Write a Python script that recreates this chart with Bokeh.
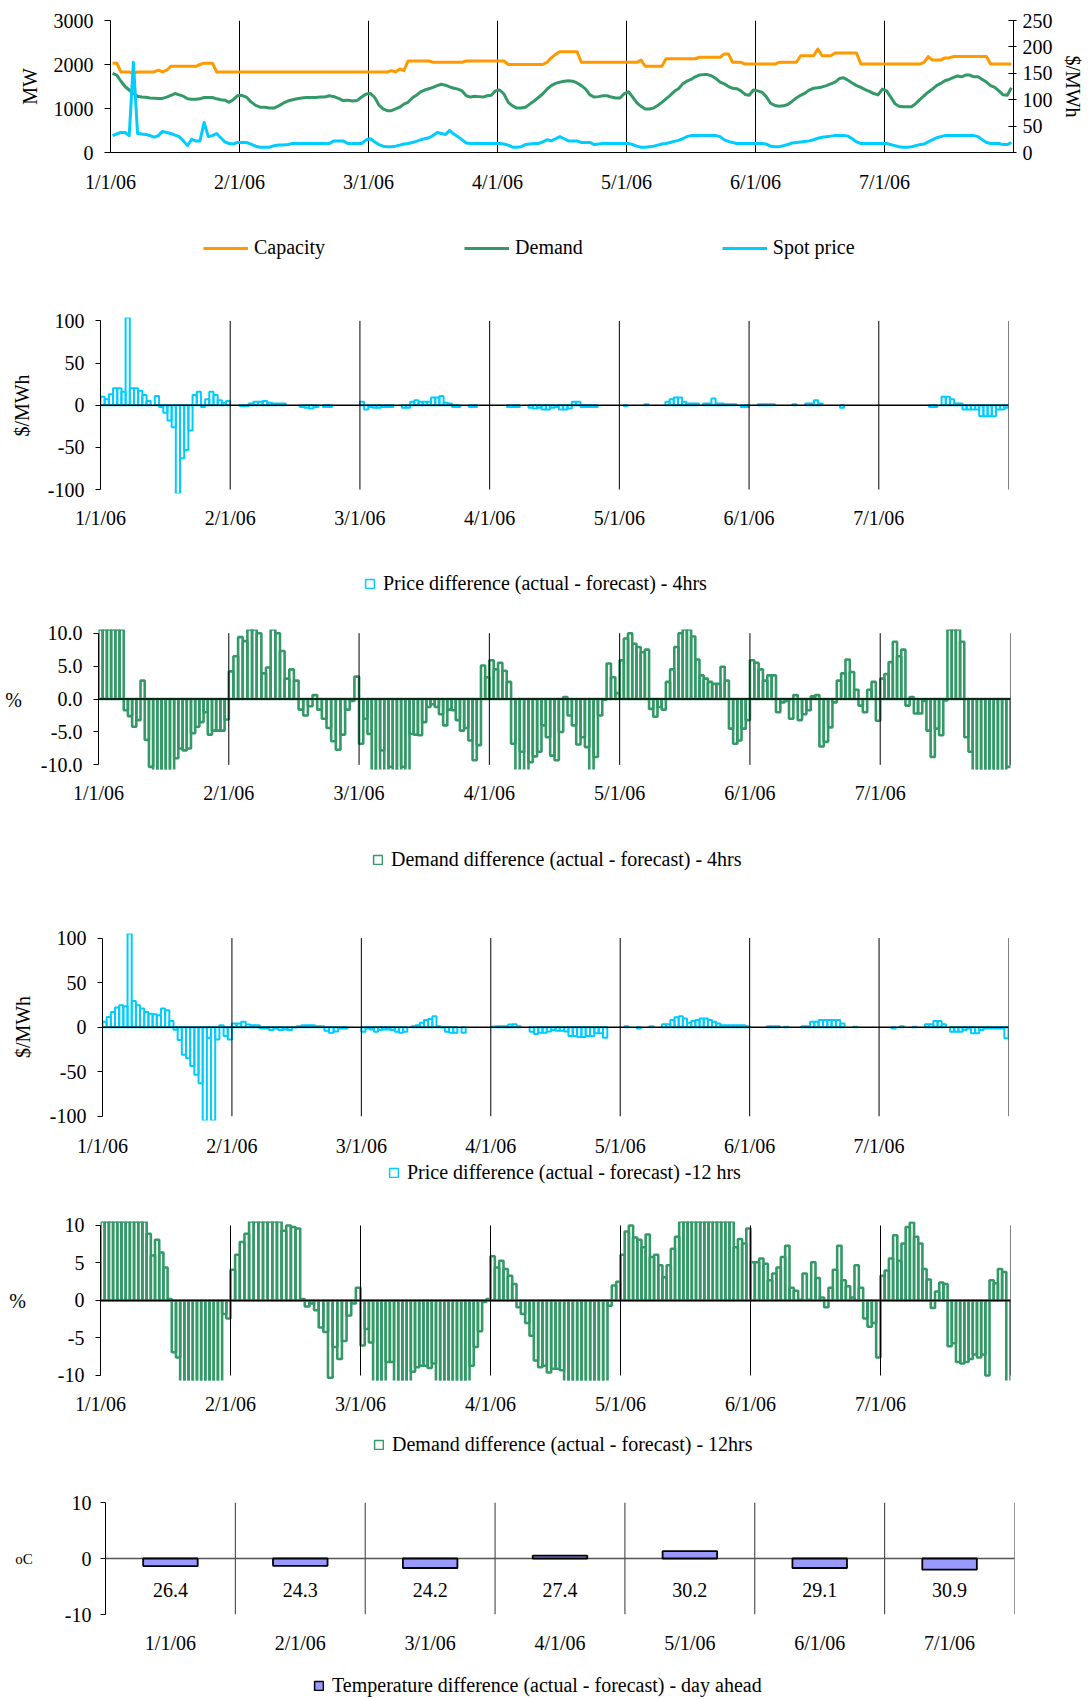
import numpy as np
import pandas as pd
from bokeh.plotting import figure
from bokeh.layouts import column
from bokeh.models import (ColumnDataSource, Range1d, LinearAxis, FixedTicker,
                          NumeralTickFormatter, Legend, LegendItem)
from bokeh.core.properties import value
from bokeh.embed import file_html
from bokeh.resources import INLINE

# ---------------------------------------------------------------- data
month_labels = ["1/1/06", "2/1/06", "3/1/06", "4/1/06", "5/1/06", "6/1/06", "7/1/06"]

capacity_mw = (
    [2030, 2030, 1830, 1830, 1830, 1800, 1830, 1830, 1830, 1830, 1830, 1870, 1830, 1870, 1960, 1960,
     1960, 1960, 1960, 1960, 1960, 2000, 2030, 2030, 2030, 1830, 1830, 1830, 1830, 1830, 1830]
    + [1830, 1830, 1830, 1830, 1830, 1830, 1830, 1830, 1830, 1830, 1830, 1830, 1830, 1830,
       1830, 1830, 1830, 1830, 1830, 1830, 1830, 1830, 1830, 1830, 1830, 1830, 1830, 1830]
    + [1830, 1830, 1830, 1830, 1830, 1860, 1830, 1900, 1860, 2080, 2080, 2080, 2080, 2080, 2080, 2050,
       2050, 2050, 2050, 2050, 2050, 2050, 2050, 2080, 2080, 2080, 2080, 2080, 2080, 2080, 2080]
    + [2080, 2080, 2000, 2000, 2000, 2000, 2000, 2000, 2000, 2000, 2000, 2050, 2150, 2230, 2290,
       2290, 2290, 2290, 2290, 2050, 2050, 2050, 2050, 2050, 2050, 2050, 2050, 2050, 2050, 2050]
    + [2050, 2050, 2050, 2100, 1960, 1960, 1960, 1960, 1960, 2130, 2130, 2130, 2130, 2130, 2130, 2130,
       2130, 2165, 2165, 2165, 2165, 2165, 2165, 2240, 2240, 2050, 2050, 2050, 2010, 2010, 2010]
    + [2010, 2010, 2010, 2010, 2010, 2050, 2050, 2050, 2050, 2050, 2200, 2200, 2200, 2200, 2350,
       2200, 2200, 2200, 2260, 2260, 2260, 2260, 2260, 2260, 2010, 2010, 2010, 2010, 2010, 2010]
    + [2010, 2010, 2010, 2010, 2010, 2010, 2010, 2010, 2010, 2050, 2180, 2100, 2100, 2100, 2150, 2150,
       2180, 2180, 2180, 2180, 2180, 2180, 2180, 2180, 2180, 2010, 2010, 2010, 2010, 2010, 2010]
)

demand_mw = (
    [1800, 1760, 1620, 1500, 1420, 1340, 1280, 1260, 1255, 1240, 1235, 1230, 1230, 1260, 1300, 1340,
     1310, 1280, 1220, 1210, 1210, 1220, 1250, 1250, 1250, 1220, 1200, 1190, 1140, 1200, 1290]
    + [1300, 1260, 1150, 1070, 1030, 1030, 1010, 1010, 1060, 1120, 1170, 1200, 1220, 1240,
       1250, 1250, 1250, 1260, 1260, 1290, 1270, 1230, 1180, 1190, 1170, 1180, 1260, 1330]
    + [1340, 1250, 1080, 990, 950, 950, 990, 1030, 1100, 1140, 1240, 1300, 1380, 1420, 1450, 1480,
       1520, 1550, 1530, 1490, 1460, 1440, 1400, 1290, 1260, 1280, 1270, 1260, 1290, 1300, 1400]
    + [1420, 1330, 1140, 1060, 1010, 1010, 1030, 1100, 1170, 1250, 1330, 1440, 1520, 1570, 1600,
       1620, 1630, 1620, 1580, 1520, 1440, 1310, 1260, 1270, 1290, 1290, 1260, 1240, 1240, 1340]
    + [1380, 1260, 1130, 1050, 990, 990, 1010, 1070, 1140, 1220, 1300, 1390, 1450, 1560, 1620, 1660,
       1720, 1760, 1770, 1770, 1740, 1680, 1600, 1560, 1500, 1460, 1450, 1400, 1320, 1300, 1420]
    + [1400, 1370, 1270, 1120, 1070, 1050, 1060, 1090, 1160, 1240, 1300, 1350, 1420, 1460, 1470,
       1490, 1520, 1560, 1600, 1680, 1700, 1640, 1580, 1520, 1480, 1430, 1390, 1340, 1310, 1440]
    + [1400, 1260, 1110, 1050, 1040, 1040, 1040, 1110, 1200, 1290, 1370, 1440, 1520, 1570, 1630, 1660,
       1700, 1740, 1720, 1760, 1760, 1720, 1720, 1660, 1600, 1520, 1480, 1400, 1310, 1300, 1470]
)

spot_price = (
    [32, 35, 38, 38, 32, 171, 36, 35, 34, 32, 29, 32, 40, 38, 36, 33, 30, 22, 13, 25, 22, 22, 57, 30,
     32, 36, 28, 20, 17, 16, 19]
    + [19, 19, 16, 12, 10, 10, 10, 13, 14, 14, 15, 17, 17, 17, 17, 17, 17, 17, 17, 17, 22, 22, 22, 17,
       17, 17, 17, 24]
    + [26, 20, 15, 12, 11, 11, 12, 14, 16, 17, 19, 21, 24, 26, 28, 32, 38, 36, 34, 42, 35, 30, 24, 18,
       17, 17, 17, 17, 17, 17, 17]
    + [17, 16, 14, 10, 10, 11, 15, 16, 17, 17, 20, 24, 22, 26, 30, 26, 22, 22, 22, 19, 19, 19, 15, 16,
       17, 17, 17, 17, 17, 17]
    + [17, 15, 12, 10, 10, 11, 12, 14, 16, 17, 19, 21, 23, 26, 30, 32, 32, 32, 32, 32, 32, 32, 30, 24,
       21, 19, 17, 17, 17, 17, 17]
    + [17, 17, 16, 12, 11, 11, 13, 15, 18, 19, 20, 21, 22, 24, 27, 29, 30, 31, 32, 32, 32, 31, 26, 20,
       17, 17, 17, 17, 17, 17]
    + [17, 15, 13, 11, 10, 10, 11, 13, 15, 16, 20, 24, 28, 30, 32, 32, 32, 32, 32, 32, 32, 32, 30, 24,
       19, 17, 17, 17, 15, 15, 19]
)

price_diff_4h = (
    [10, 7, 13, 20, 20, 16, 150, 20, 20, 17, 12, 5, None, 11, -2, -9, -18, -26, -105, -63, -53, -30,
     12, 16, -2, 7, 16, 12, 6, 3, 5]
    + [None, None, -1, -1, 2, 4, 4, 5, 3, 2, 2, 2, None, None, None, -2, -3, -4, -2, None, -2, -2,
       None, None, None, None, None, None]
    + [4, -5, -2, -3, -3, -2, -2, -2, None, None, -3, -3, 4, 6, 4, 4, 4, 9, 9, 11, 3, 2, -2, -2,
       None, None, -2, -2, None, None, None]
    + [None, None, None, None, -2, -2, -2, None, None, -3, -4, -3, -5, -5, -3, -2, -5, -5, -4, 4, 4,
       -2, -2, -2, -2, None, None, None, None, None]
    + [None, -1, None, None, None, None, 1, None, None, None, None, 4, 7, 9, 9, 4, 2, 2, 2, None, 2,
       2, 8, 2, 2, 1, 1, 1, None, -2, -2]
    + [None, None, 1, 1, 1, 1, None, None, None, None, 1, None, None, 2, 2, 6, 2, None, None, None,
       None, -3, None, None, None, None, None, None, None, None]
    + [None, None, None, None, None, None, None, None, None, None, None, None, -2, -2, None, 10, 10,
       7, 2, 2, -5, -5, -5, -5, -13, -13, -13, -13, -5, -5, -3]
)

demand_diff_4h = (
    [11, 11, 11, 11, 11, 11, -1.7, -2.6, -4.2, -3.2, 2.8, -6.2, -10.3, -11, -11, -11, -11, -11, -9.0,
     -7.5, -7.8, -7.5, -5.2, -4.2, -3.5, -2.0, -5.4, -4.8, -4.8, -4.8, -3.1]
    + [4.2, 6.5, 9.4, 8.8, 11, 11, 10, 3.9, 4.8, 11, 10, 7.3, 3.1, 4.5, 2.8, -1.6, -2.5, -1.1, 0.6,
       -1.6, -3.0, -4.4, -6.4, -7.7, -5.4, -1.6, -0.3, 3.4]
    + [-6.8, -3.0, -5.3, -11, -11, -7.8, -11, -10.3, -11, -11, -10.3, -11, -5.3, -5.4, -5.5, -3.5,
       -1.2, -0.8, -1.2, -2.3, -4.0, -1.6, -1.7, -3.2, -4.8, -4.4, -6.3, -9.3, -7.0, 5.1, 3.3]
    + [5.9, 4.5, 5.5, 4.3, 2.6, -6.8, -11, -8.0, -11, -9.6, -8.7, -8.0, -4.0, -5.8, -8.6, -9.3, -5.0,
       0.3, -2.5, -4.0, -6.9, -5.8, -7.3, -11, -8.8, -2.5, -0.1, 5.4, 3.3, 0.9]
    + [5.9, 9.2, 10, 8.4, 7.9, 7.1, 7.5, -1.5, -2.7, -1.2, -1.6, 2.6, 4.5, 7.9, 10, 11, 11, 9.5, 6.0,
       3.6, 3.1, 2.6, 2.3, 2.3, 4.9, 2.8, -4.5, -6.8, -6.3, -4.5, -3.2]
    + [5.9, 5.5, 4.5, 2.8, 3.6, 3.6, -2.0, -0.5, -0.3, -3.0, 0.6, -3.2, -2.3, -1.7, 0.4, 0.6, -7.2,
       -6.5, -4.3, -0.5, 2.8, 3.9, 6.0, 4.1, 1.4, -1.0, -2.0, 1.4, 2.6, -3.3]
    + [3.1, 3.8, 5.6, 8.7, 6.5, 7.5, -1.0, 0.3, -2.2, -2.2, -0.3, -4.8, -8.8, -4.5, -5.5, -0.2, 11, 11,
       11, 8.7, -5.8, -8.0, -11, -11, -11, -11, -11, -11, -11, -11, -10.3]
)

price_diff_12h = (
    [6, 11.5, 17, 22, 24.5, 23.4, 150, 29.4, 24.5, 21, 17, 15, 14.5, 13.4, 21, 19, 7, -3, -14.5, -31,
     -35, -43.5, -53.5, -63, -105, -12, -105, -14, 2, -10, -14]
    + [4, 4, 6, 3, 2, 2, -1.5, -1.5, -3.3, -1.5, -3.3, -2.6, -3.3, -0.4, 1, 2, 2, 2, 1, 1, -4, -6.3,
       -5, -1.5, -1.5, None, None, None]
    + [-5.2, -1.5, -2.6, -5.2, -3.3, -2.6, -2.6, -3.3, -5.2, -6.3, -5.2, None, 1, 2, 5, 8, 9, 12.3, 1,
       -0.4, -5.2, -6.3, -6.3, None, -6.3, None, None, None, None, None, None]
    + [0.5, 1, 1, 1, 3, 3.3, 1, None, None, -5.2, -7.8, -6.3, -6.3, -5, -3.3, -4, -4, -5, -10, -10,
       -11, -11, -10, -10, -7, -7, -12, None, None, None]
    + [None, 1, None, None, -1.5, None, None, 1, None, None, 3.3, 3.3, 8, 11, 12.3, 9.7, 4.8, 7, 8,
       9.7, 9.7, 8, 6, 4, 2, 2, 2, 2, 2, 2, 1]
    + [None, None, None, None, 1, 1, 1, None, 0.5, None, None, None, 1, 1, 6, 6, 8, 8, 8, 8, 8, 4,
       None, None, 0.5, None, None, None, None, None]
    + [None, None, None, -1.5, None, 1, None, None, 0.5, None, None, 3.3, 3.3, 7, 7, 3.3, None, -5.2,
       -5.2, -5.2, -3.3, -1.5, -7, -7, -3.3, -1.5, -1.5, -1.5, -1.5, -1.5, -12.6]
)

demand_diff_12h = (
    [11, 11, 11, 11, 11, 11, 11, 11, 11, 11, 11, 8.9, 6.0, 8.1, 6.4, 4.4, 0.2, -6.9, -7.6, -11, -11,
     -11, -11, -11, -11, -11, -11, -11, -11, -1.8, -2.4]
    + [4.1, 6.1, 7.8, 8.9, 11, 11, 11, 11, 11, 11, 11, 9.3, 10, 9.8, 9.6, 0.2, -0.8, -0.4, -1.3, -3.6,
       -4.2, -10.3, -6.2, -7.8, -5.4, -2.0, -0.4, 1.7]
    + [-6.0, -3.8, -5.6, -11, -11, -11, -8.2, -8.2, -11, -11, -11, -11, -9.5, -8.9, -8.7, -8.7, -9.0,
       -8.4, -11, -11, -11, -11, -11, -11, -11, -11, -8.7, -6.2, -4.1, -0.2, 0.2]
    + [5.9, 4.4, 5.3, 4.2, 3.3, 2.2, -0.9, -1.8, -3.0, -4.7, -8.0, -8.9, -8.7, -9.6, -9.1, -9.1, -9.3,
       -11, -11, -11, -11, -11, -11, -11, -11, -11, -11, -0.7, 2.0, 2.5]
    + [6.1, 9.2, 10, 8.4, 8.1, 7.1, 8.8, 5.8, 6.1, 4.7, 3.1, 4.7, 6.9, 8.5, 11, 11, 11, 11, 11, 11, 11,
       11, 11, 11, 11, 11, 11, 7.1, 8.2, 7.6, 9.6]
    + [5.1, 5.1, 5.6, 4.9, 2.7, 3.6, 4.4, 5.8, 7.3, 1.7, 1.3, 0.1, 3.6, 0.1, 5.1, 3.0, 0.4, -0.9, 1.7,
       4.1, 7.3, 2.7, 1.9, 0.4, 4.7, 1.7, -2.4, -3.5, -3.0, -7.6]
    + [3.3, 4.0, 5.6, 8.7, 5.3, 7.6, 9.8, 10.4, 8.5, 7.6, 4.2, 2.8, -1.0, 1.2, 2.4, 2.2, -6.1, -5.7,
       -8.2, -8.4, -8.2, -7.8, -7.2, -7.6, -7.2, -10.0, 2.7, 2.3, 4.2, 3.8, -11]
)

temp_diff = [-1.35, -1.3, -1.7, 0.5, 1.3, -1.7, -2.0]
temp_actual = ["26.4", "24.3", "24.2", "27.4", "30.2", "29.1", "30.9"]

mw_ticks = [0, 1000, 2000, 3000]
price_ticks = [0, 50, 100, 150, 200, 250]
diff_price_ticks = [-100, -50, 0, 50, 100]
diff_pct4_ticks = [-10, -5, 0, 5, 10]
diff_pct12_ticks = [-10, -5, 0, 5, 10]
temp_ticks = [-10, 0, 10]

# ---------------------------------------------------------------- styling
FONT = "Liberation Serif"
FS = "20px"
W = 1092
ORANGE = "#FF9900"
GREEN = "#339966"
CYAN = "#00CCFF"
PURPLE = "#9999FF"
GREEN_LW = 2.6
CYAN_LW = 2.0
LEG_DY = 11     # legend text centre above the legend anchor

dates = pd.date_range("2006-01-01", "2006-07-31", freq="D")
m_idx = (dates.month - 1).to_numpy()
ndays = dates.days_in_month.to_numpy()
x_day = m_idx + (dates.day.to_numpy() - 0.5) / ndays
w_day = 1.0 / ndays
n_m = len(month_labels)
month_pos = list(range(n_m))
boundaries = list(range(1, n_m + 1))


def num(a):
    return np.array(a, dtype=float)


def no_align(p):
    try:
        p.frame_align = False
    except Exception:
        pass


def make_fig(height, fl, fr, ft, fb, y0, y1):
    p = figure(width=W, height=height, x_range=Range1d(0, n_m), y_range=Range1d(y0, y1),
               output_backend="svg", toolbar_location=None,
               min_border_left=fl, min_border_right=W - fr,
               min_border_top=ft, min_border_bottom=height - fb)
    p.outline_line_color = None
    p.grid.visible = False
    p.background_fill_color = "white"
    p.border_fill_color = "white"
    no_align(p)
    return p


def style_axis(ax, fs=FS):
    ax.major_label_text_font = FONT
    ax.major_label_text_font_size = fs
    ax.major_label_text_color = "black"
    ax.axis_label_text_font = FONT
    ax.axis_label_text_font_size = fs
    ax.axis_label_text_font_style = "normal"
    ax.axis_label_text_color = "black"
    ax.axis_line_color = "black"
    ax.axis_line_width = 1
    ax.major_tick_line_color = "black"
    ax.minor_tick_line_color = None


def setup_x(p, ticks, labels, standoff, line=False):
    ax = p.xaxis[0]
    style_axis(ax)
    ax.ticker = FixedTicker(ticks=list(ticks))
    ax.major_label_overrides = {t: l for t, l in zip(ticks, labels)}
    ax.major_tick_out = 0
    ax.major_tick_in = 0
    ax.major_label_standoff = standoff
    if not line:
        ax.axis_line_color = None


def setup_y(p, ticks, fmt, bounds, label, lab_standoff, orient="parallel", fs_label=FS,
            tick_standoff=11):
    ax = p.yaxis[0]
    style_axis(ax)
    ax.ticker = FixedTicker(ticks=ticks)
    ax.formatter = NumeralTickFormatter(format=fmt)
    ax.bounds = bounds
    ax.major_tick_out = 5
    ax.major_tick_in = 0
    ax.major_label_standoff = tick_standoff
    ax.axis_label = label
    ax.axis_label_standoff = lab_standoff
    ax.axis_label_text_font_size = fs_label
    ax.axis_label_orientation = orient


def legend_fig(height, specs, x, yc, gw, gh, spacing=0, standoff=6):
    """A strip holding only a legend; its glyph renderers share the data but are hidden."""
    q = figure(width=W, height=height, x_range=Range1d(0, 1), y_range=Range1d(0, 1),
               output_backend="svg", toolbar_location=None, x_axis_type=None,
               y_axis_type=None, min_border_left=0, min_border_right=0,
               min_border_top=0, min_border_bottom=0)
    q.outline_line_color = None
    q.background_fill_color = "white"
    q.border_fill_color = "white"
    no_align(q)
    items = []
    for label, kind, src, field, kw in specs:
        if kind == "line":
            r = q.line(x="x", y=field, source=src, visible=False, **kw)
        else:
            r = q.vbar(x="x", width=0.01, top=field, source=src, visible=False, **kw)
        items.append(LegendItem(label=label, renderers=[r]))
    leg = Legend(items=items, location=(x, yc - LEG_DY), orientation="horizontal",
                 label_text_font=FONT, label_text_font_size=FS, label_text_color="black",
                 label_standoff=standoff, glyph_width=gw, glyph_height=gh, label_height=gh,
                 spacing=spacing, padding=0, margin=0, border_line_color=None,
                 background_fill_alpha=0, inactive_fill_alpha=0)
    q.add_layout(leg)
    return q


def month_lines(p, lo, hi, xs, color="black"):
    p.segment(x0=xs, y0=[lo] * len(xs), x1=xs, y1=[hi] * len(xs),
              line_color=color, line_width=1)


def zero_line(p, color="black", width=1.5):
    p.segment(x0=[0], y0=[0], x1=[n_m], y1=[0], line_color=color, line_width=width)


# ---------------------------------------------------------------- panel 1
p1 = make_fig(220, 110, 1013, 20, 152, 0, 3000)
p1.extra_y_ranges = {"price": Range1d(0, 250)}
month_lines(p1, 0, 3000, boundaries[:-1])
src1 = ColumnDataSource(dict(x=x_day, cap=num(capacity_mw), dem=num(demand_mw), spot=num(spot_price)))
p1.line("x", "cap", source=src1, line_color=ORANGE, line_width=3, line_join="round")
p1.line("x", "dem", source=src1, line_color=GREEN, line_width=3, line_join="round")
p1.line("x", "spot", source=src1, line_color=CYAN, line_width=3, line_join="round",
        y_range_name="price")
setup_x(p1, month_pos, month_labels, 18, line=True)
setup_y(p1, mw_ticks, "0", (0, 3000), "MW", 10)
p1.yaxis[0].major_tick_out = 6
ax_r = LinearAxis(y_range_name="price")
style_axis(ax_r)
ax_r.ticker = FixedTicker(ticks=price_ticks)
ax_r.formatter = NumeralTickFormatter(format="0")
ax_r.major_tick_in = 5
ax_r.major_tick_out = 3
ax_r.major_label_standoff = 6
ax_r.axis_label = "$/MWh"
ax_r.axis_label_standoff = 6
p1.add_layout(ax_r, "right")
l1 = legend_fig(55, [("Capacity", "line", src1, "cap", dict(line_color=ORANGE, line_width=3)),
                     ("Demand", "line", src1, "dem", dict(line_color=GREEN, line_width=3)),
                     ("Spot price", "line", src1, "spot", dict(line_color=CYAN, line_width=3))],
                203, 26.7, 45, 20, spacing=139, standoff=6)

# ---------------------------------------------------------------- panel 2
p2 = make_fig(275, 100, 1008, 42, 218, -104.7, 104)
src2 = ColumnDataSource(dict(x=x_day, w=w_day, v=num(price_diff_4h)))
p2.vbar(x="x", width="w", top="v", bottom=0, source=src2, fill_color=None,
        line_color=CYAN, line_width=CYAN_LW)
month_lines(p2, -100, 100, boundaries)
zero_line(p2)
setup_x(p2, month_pos, month_labels, 13)
setup_y(p2, diff_price_ticks, "0", (-100, 100), "$/MWh", 12)
l2 = legend_fig(55, [("Price difference (actual - forecast) - 4hrs", "bar", src2, "v",
                      dict(fill_color=None, line_color=CYAN, line_width=1.5))],
                364, 20.7, 11, 11, standoff=8)

# ---------------------------------------------------------------- panel 3
p3 = make_fig(210, 98, 1010, 24, 164, -10.7, 10.56)
src3 = ColumnDataSource(dict(x=x_day, w=w_day, v=num(demand_diff_4h)))
p3.vbar(x="x", width="w", top="v", bottom=0, source=src3, fill_color=None,
        line_color=GREEN, line_width=GREEN_LW)
month_lines(p3, -10, 10, boundaries)
zero_line(p3)
setup_x(p3, month_pos, month_labels, 12)
setup_y(p3, diff_pct4_ticks, "0.0", (-10, 10), "%", 16, orient="horizontal")
l3 = legend_fig(70, [("Demand difference (actual - forecast) - 4hrs", "bar", src3, "v",
                      dict(fill_color=None, line_color=GREEN, line_width=1.5))],
                372, 25, 11, 11, standoff=8)

# ---------------------------------------------------------------- panel 4
p4 = make_fig(274, 102, 1008, 48, 236, -104.8, 105.1)
src4 = ColumnDataSource(dict(x=x_day, w=w_day, v=num(price_diff_12h)))
p4.vbar(x="x", width="w", top="v", bottom=0, source=src4, fill_color=None,
        line_color=CYAN, line_width=CYAN_LW)
month_lines(p4, -100, 100, boundaries)
zero_line(p4)
setup_x(p4, month_pos, month_labels, 14)
setup_y(p4, diff_price_ticks, "0", (-100, 100), "$/MWh", 13)
l4 = legend_fig(31, [("Price difference (actual - forecast) -12 hrs", "bar", src4, "v",
                      dict(fill_color=None, line_color=CYAN, line_width=1.5))],
                388, 16.7, 11, 11, standoff=8)

# ---------------------------------------------------------------- panel 5
p5 = make_fig(235, 100, 1010, 31, 190, -10.67, 10.53)
src5 = ColumnDataSource(dict(x=x_day, w=w_day, v=num(demand_diff_12h)))
p5.vbar(x="x", width="w", top="v", bottom=0, source=src5, fill_color=None,
        line_color=GREEN, line_width=GREEN_LW)
month_lines(p5, -10, 10, boundaries)
zero_line(p5)
setup_x(p5, month_pos, month_labels, 12)
setup_y(p5, diff_pct12_ticks, "0", (-10, 10), "%", 29, orient="horizontal")
l5 = legend_fig(45, [("Demand difference (actual - forecast) - 12hrs", "bar", src5, "v",
                      dict(fill_color=None, line_color=GREEN, line_width=1.5))],
                373, 25, 11, 11, standoff=8)

# ---------------------------------------------------------------- panel 6
p6 = make_fig(190, 105, 1014, 32, 144, -10, 10)
cat_x = [m + 0.5 for m in month_pos]
src6 = ColumnDataSource(dict(x=cat_x, v=num(temp_diff), lab=temp_actual,
                             ly=[-5.7] * len(temp_actual)))
month_lines(p6, -10, 10, boundaries, color="#333333")
zero_line(p6, color="#555555", width=1.5)
p6.vbar(x="x", width=0.42, top="v", bottom=0, source=src6, fill_color=PURPLE,
        line_color="black", line_width=1.8)
p6.text(x="x", y="ly", text="lab", source=src6, text_font=value(FONT),
        text_font_size=value(FS), text_align="center", text_baseline="middle", text_color="black")
setup_x(p6, cat_x, month_labels, 17)
setup_y(p6, temp_ticks, "0", (-10, 10), "oC", 29, orient="horizontal", fs_label="15px",
        tick_standoff=9)
l6 = legend_fig(39, [("Temperature difference (actual - forecast) - day ahead", "bar", src6, "v",
                      dict(fill_color=PURPLE, line_color="black", line_width=1.5))],
                313, 13, 11, 11, standoff=8)

layout = column(p1, l1, p2, l2, p3, l3, p4, l4, p5, l5, p6, l6, spacing=0)
open("out.html", "w").write(file_html(layout, INLINE))
